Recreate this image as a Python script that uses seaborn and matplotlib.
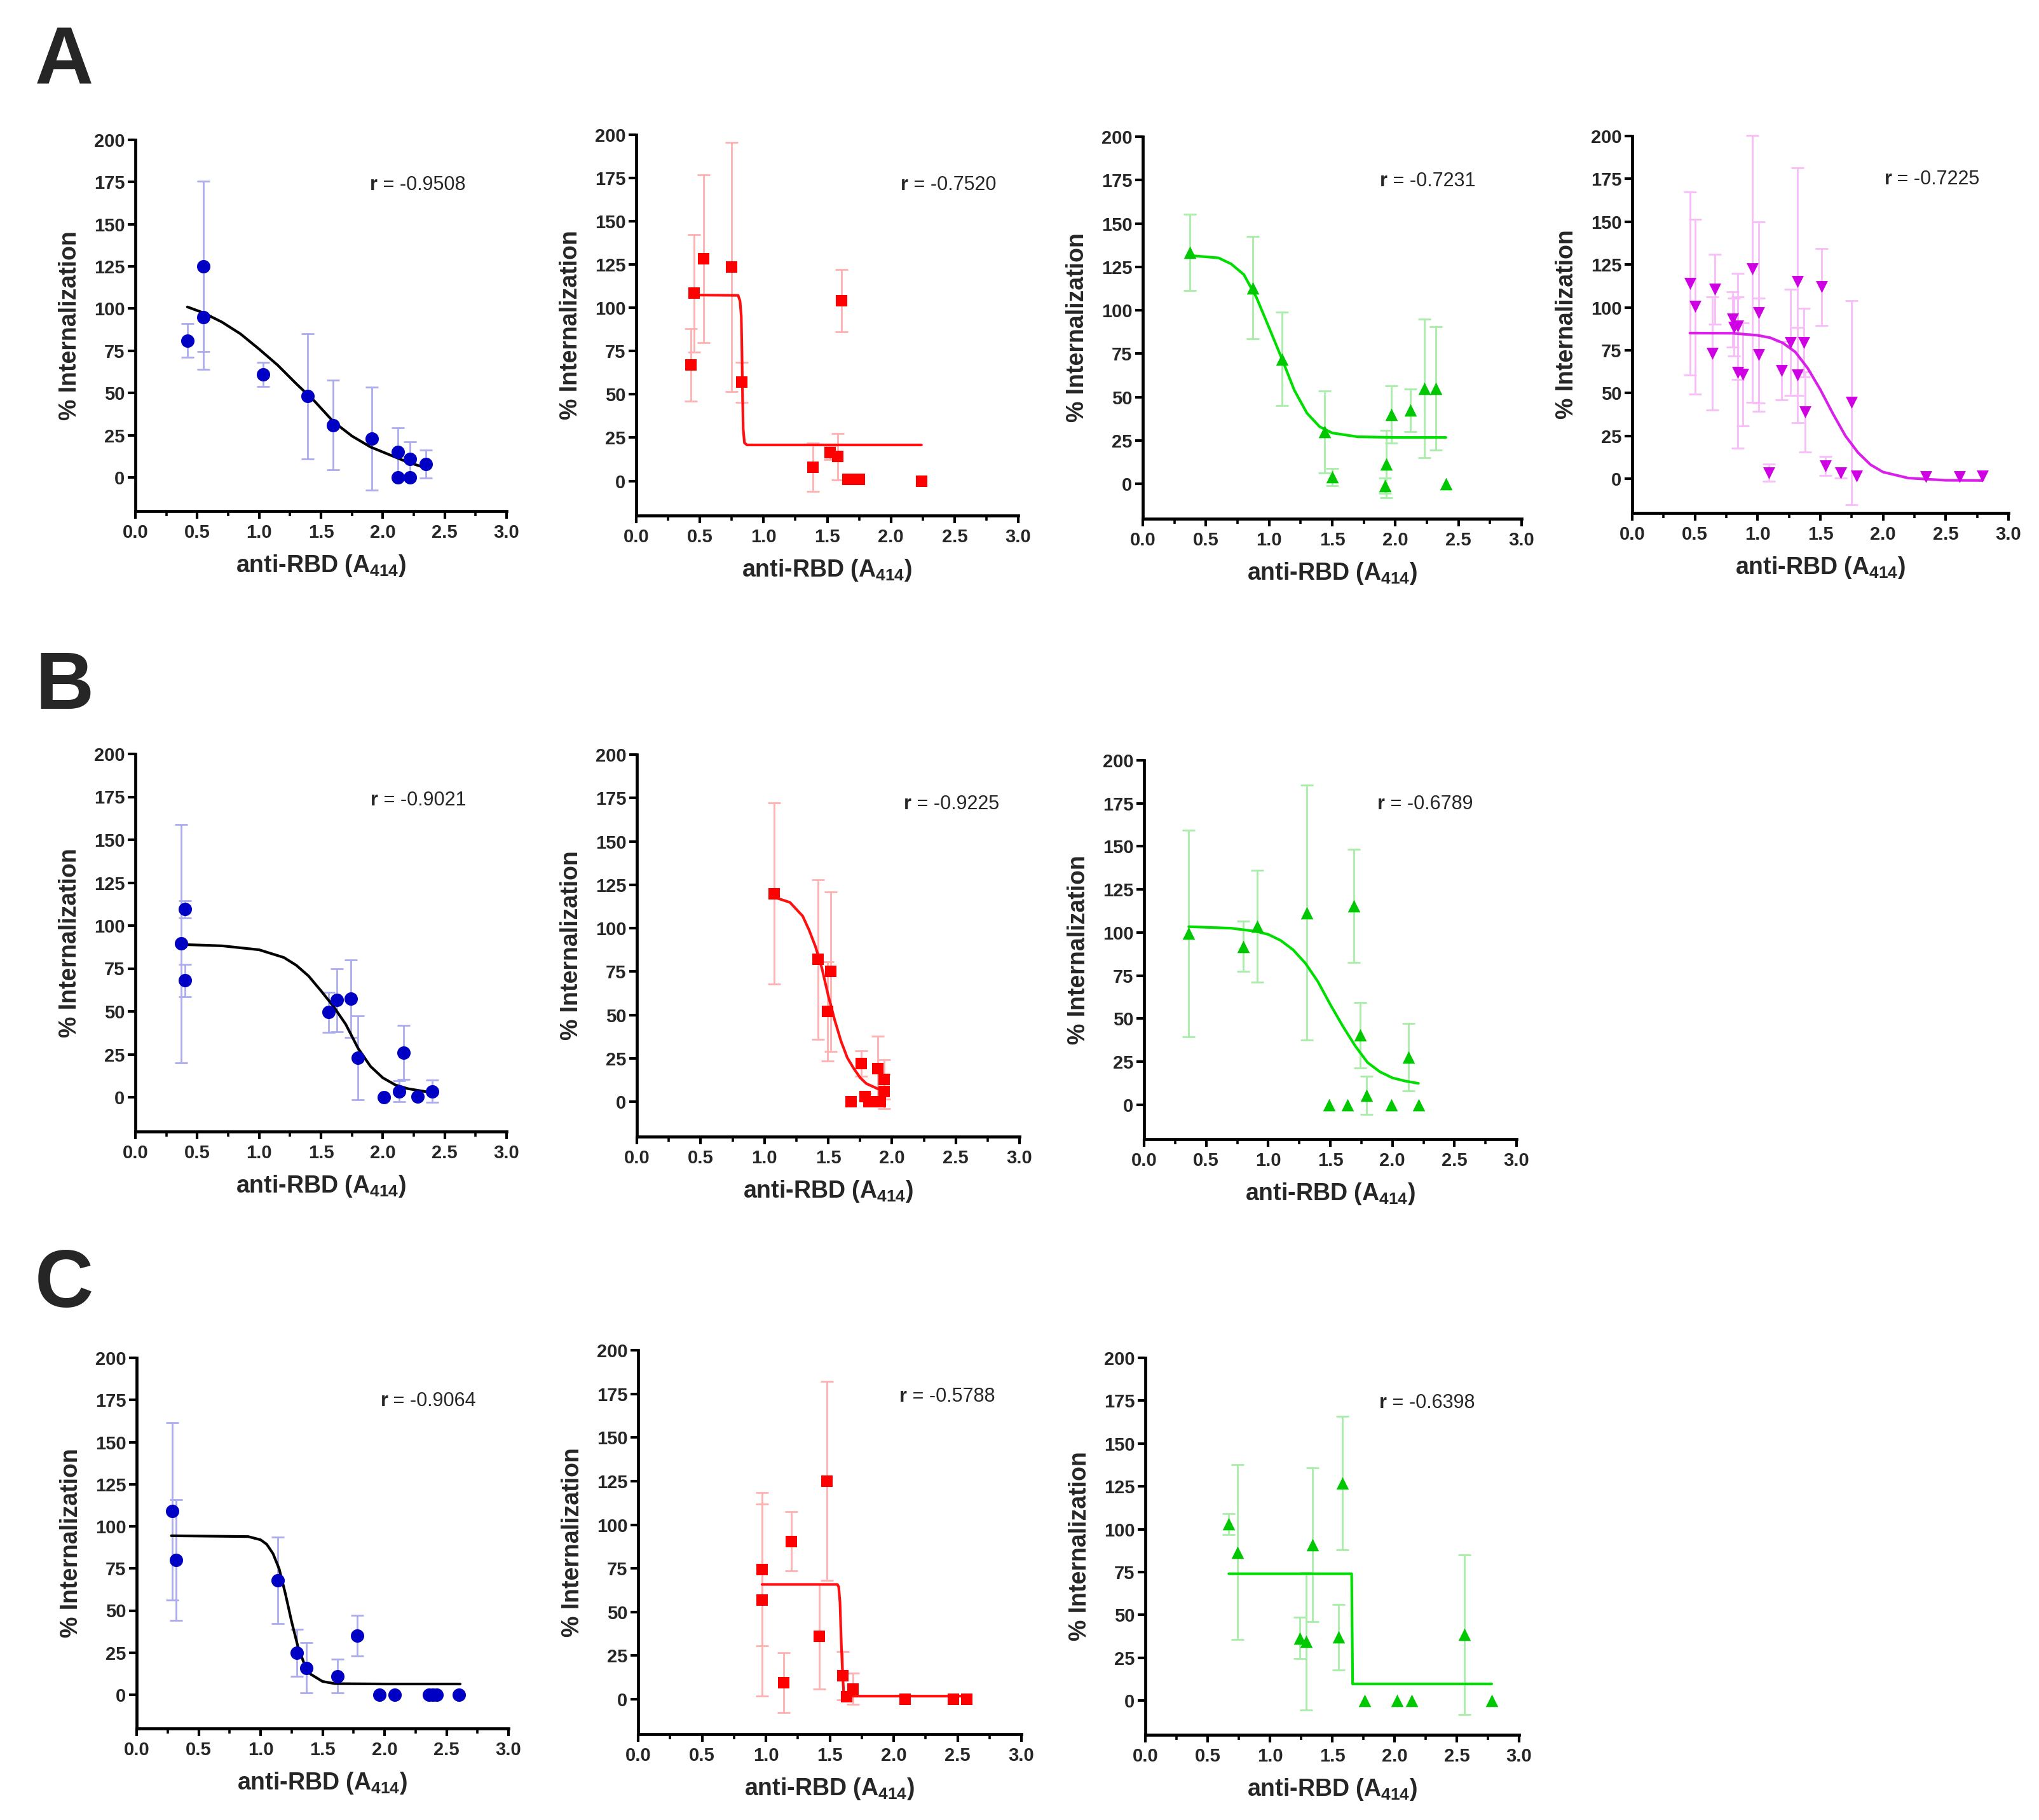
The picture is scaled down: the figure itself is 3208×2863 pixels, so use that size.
import numpy as np
import seaborn as sns
import matplotlib.pyplot as plt
from matplotlib.ticker import MultipleLocator

# ---- data ----
# Row A
a1_x = [0.42, 0.55, 0.55, 1.03, 1.39, 1.60, 1.91, 2.12, 2.12, 2.22, 2.22, 2.35]
a1_y = [81, 125, 95, 61, 48, 31, 23, 15, 0, 11, 0, 8]
a1_err = [10, 50.5, 31, 7, 37, 26.5, 30.5, 14.5, 0, 10, 0, 8.3]
a1_fit_x = [0.42, 0.55, 0.7, 0.85, 1.0, 1.15, 1.3, 1.45, 1.6, 1.75, 1.9, 2.05, 2.2, 2.33]
a1_fit_y = [101, 97.5, 92, 85, 76, 66.5, 55.5, 45, 33, 24.5, 18, 13.5, 9, 6]

a2_x = [0.43, 0.455, 0.53, 0.75, 0.83, 1.39, 1.52, 1.58, 1.61, 1.66, 1.75, 2.24]
a2_y = [67, 108.5, 128.5, 123.5, 57, 8, 16.5, 14, 104, 1, 1, 0]
a2_err = [21, 34, 48.5, 72, 11.5, 14, 4, 13.3, 18, 0, 0, 0]
a2_fit_x = [0.48, 0.80, 0.815, 0.825, 0.83, 0.835, 0.84, 0.85, 0.87, 2.24]
a2_fit_y = [107.4, 107.2, 104, 95, 75, 50, 30, 22, 20.8, 20.8]

a3_x = [0.37, 0.87, 1.10, 1.44, 1.50, 1.93, 1.92, 1.97, 2.12, 2.23, 2.32, 2.40]
a3_y = [133.5, 113, 72, 30, 4, 11.5, -1, 40, 42.5, 55, 55, 0]
a3_err = [22, 29.5, 27, 23.5, 5, 19.5, 4.3, 16.5, 12.3, 40, 35.5, 0]
a3_fit_x = [0.37, 0.6, 0.7, 0.8, 0.9, 1.0, 1.1, 1.2, 1.3, 1.4, 1.5, 1.7, 2.0, 2.40]
a3_fit_y = [131.6, 130.2, 126.7, 120.6, 107.4, 90, 72.4, 54, 40.8, 33, 29.4, 27.2, 26.8, 26.8]

a4_x = [0.46, 0.50, 0.66, 0.64, 0.80, 0.81, 0.84, 0.84, 0.88, 0.96,
        1.01, 1.01, 1.09, 1.19, 1.26, 1.32, 1.32, 1.37, 1.38, 1.51,
        1.54, 1.66, 1.75, 1.79, 2.34, 2.61, 2.79]
a4_y = [114, 100.5, 110.5, 73, 93, 88.5, 89, 62, 61, 122.5,
        97, 72.5, 3.5, 63, 79.5, 115, 60.5, 79.5, 39, 112,
        7.5, 3.5, 44.5, 1.5, 1, 1, 1.5]
a4_err = [53.5, 51, 20.5, 33, 16, 17, 31, 44, 30, 78,
          53, 33, 5, 17, 31, 66.5, 28, 20, 23.5, 22.5,
          5.5, 3, 59.5, 0, 0, 0, 0]
a4_fit_x = [0.46, 0.8, 1.0, 1.1, 1.2, 1.3, 1.4, 1.5, 1.6, 1.7, 1.8, 1.9, 2.0, 2.2, 2.5, 2.79]
a4_fit_y = [85, 84.9, 83.7, 82.3, 79.3, 74, 64.4, 52, 38, 25, 15.3, 8.2, 3.9, 0.4, -0.9, -1]

# Row B
b1_x = [0.40, 0.37, 0.40, 1.56, 1.63, 1.74, 1.80, 2.01, 2.13, 2.17, 2.28, 2.40]
b1_y = [109.5, 89.5, 68, 49.5, 56.5, 57.5, 23, 0, 3.5, 26, 0.5, 3.5]
b1_err = [5, 69.5, 9.5, 11.7, 18.5, 22.5, 24.5, 0, 6, 15.8, 0, 6.6]
b1_fit_x = [0.37, 0.7, 1.0, 1.2, 1.3, 1.4, 1.5, 1.6, 1.7, 1.8, 1.9, 2.0, 2.1, 2.2, 2.35]
b1_fit_y = [89, 88.2, 85.9, 81.4, 76.9, 70.6, 62, 53, 42.5, 28.5, 18, 11.3, 7.2, 5, 3.2]

b2_x = [1.075, 1.42, 1.52, 1.495, 1.68, 1.76, 1.79, 1.82, 1.89, 1.94, 1.94, 1.91]
b2_y = [120, 82, 75, 52, 0, 22, 3, 0, 19, 13, 6, 0]
b2_err = [52, 46, 46, 28.5, 0, 7.3, 2, 0, 18.8, 11.4, 10, 0]
b2_fit_x = [1.075, 1.2, 1.3, 1.35, 1.4, 1.45, 1.5, 1.55, 1.6, 1.65, 1.7, 1.75, 1.8, 1.92]
b2_fit_y = [117.9, 114.9, 107, 99, 89.5, 77.2, 61.4, 47.4, 35.1, 25.4, 19.3, 14, 10.5, 6.5]

b3_x = [0.36, 0.80, 0.91, 1.31, 1.69, 1.49, 1.64, 1.74, 1.79, 1.99, 2.13, 2.21]
b3_y = [99.5, 92, 103.5, 111.5, 115.5, 0, 0, 40.5, 5.5, 0, 27.5, 0]
b3_err = [60, 14.5, 32.5, 74, 33, 0, 0, 19, 11, 0, 19.5, 0]
b3_fit_x = [0.36, 0.7, 0.9, 1.0, 1.1, 1.2, 1.3, 1.4, 1.5, 1.6, 1.7, 1.8, 1.9, 2.0, 2.1, 2.21]
b3_fit_y = [103.4, 102.5, 100.7, 98.9, 95.4, 90, 82.1, 71.5, 58.2, 45.7, 34.2, 24.5, 19.1, 15.6, 13.8, 12.4]

# Row C
c1_x = [0.285, 0.32, 1.14, 1.29, 1.37, 1.62, 1.78, 1.96, 2.08, 2.36, 2.39, 2.42, 2.60]
c1_y = [109, 80, 68, 25, 16, 11, 35, 0, 0, 0, 0, 0, 0]
c1_err = [52.6, 35.7, 25.6, 14, 15, 10, 12, 0, 0, 0, 0, 0, 0]
c1_fit_x = [0.28, 0.9, 1.0, 1.05, 1.1, 1.15, 1.2, 1.25, 1.3, 1.35, 1.4, 1.5, 1.6, 2.0, 2.61]
c1_fit_y = [94.4, 93.9, 92, 89.3, 83.8, 74.7, 60, 43.5, 28.9, 18.8, 12.4, 7.9, 6.6, 6.4, 6.4]

c2_x = [0.97, 0.97, 1.14, 1.20, 1.42, 1.48, 1.60, 1.63, 1.68, 2.09, 2.47, 2.57]
c2_y = [74.5, 57, 9.5, 90.5, 36, 125, 13.5, 1.5, 6, 0, 0, 0]
c2_err = [44, 55, 17, 17, 30, 57, 14, 0, 9, 0, 0, 0]
c2_fit_x = [0.97, 1.56, 1.57, 1.58, 1.59, 1.60, 1.61, 1.63, 2.57]
c2_fit_y = [65.8, 65.8, 64.4, 55.5, 32.4, 14.6, 3, 1.8, 1.8]

c3_x = [0.67, 0.74, 1.24, 1.29, 1.34, 1.55, 1.58, 1.76, 2.02, 2.14, 2.56, 2.78]
c3_y = [103, 86.5, 36.5, 34.5, 91, 37, 127, 0, 0, 0, 38.5, 0]
c3_err = [6, 51, 12, 40, 45, 19, 39, 0, 0, 0, 46.5, 0]
c3_fit_x = [0.67, 1.656, 1.664, 2.78]
c3_fit_y = [74, 74, 9.7, 9.7]

r_values = ["-0.9508", "-0.7520", "-0.7231", "-0.7225",
            "-0.9021", "-0.9225", "-0.6789",
            "-0.9064", "-0.5788", "-0.6398"]

# ---- styles ----
BLUE = dict(marker="o", size=230, color="#0000C4", line="black", bar="#ABABEF")
RED = dict(marker="s", size=170, color="#FF0000", line="#FF1010", bar="#FFB0B0")
GREEN = dict(marker="^", size=200, color="#00C800", line="#00DD00", bar="#A8EEA8")
MAGENTA = dict(marker="v", size=185, color="#D000E4", line="#D820E8", bar="#F8BCF8")

W, H = 3208, 2863

# axes boxes in pixels: left, right, top, bottom ; r text anchor in axes fraction
panels = [
    (a1_x, a1_y, a1_err, a1_fit_x, a1_fit_y, BLUE, (213, 797, 220, 804), (0.652, 0.879)),
    (a2_x, a2_y, a2_err, a2_fit_x, a2_fit_y, RED, (1001, 1602, 212, 811), (0.712, 0.868)),
    (a3_x, a3_y, a3_err, a3_fit_x, a3_fit_y, GREEN, (1798, 2394, 215, 816), (0.646, 0.884)),
    (a4_x, a4_y, a4_err, a4_fit_x, a4_fit_y, MAGENTA, (2568, 3160, 214, 807), (0.690, 0.886)),
    (b1_x, b1_y, b1_err, b1_fit_x, b1_fit_y, BLUE, (213, 797, 1186, 1780), (0.654, 0.877)),
    (b2_x, b2_y, b2_err, b2_fit_x, b2_fit_y, RED, (1002, 1604, 1187, 1788), (0.717, 0.871)),
    (b3_x, b3_y, b3_err, b3_fit_x, b3_fit_y, GREEN, (1800, 2386, 1196, 1792), (0.647, 0.884)),
    (c1_x, c1_y, c1_err, c1_fit_x, c1_fit_y, BLUE, (215, 800, 2136, 2719), (0.676, 0.884)),
    (c2_x, c2_y, c2_err, c2_fit_x, c2_fit_y, RED, (1004, 1607, 2124, 2728), (0.701, 0.879)),
    (c3_x, c3_y, c3_err, c3_fit_x, c3_fit_y, GREEN, (1802, 2390, 2136, 2729), (0.646, 0.880)),
]

sns.set_style("ticks")
plt.rcParams["font.family"] = ["Liberation Sans", "DejaVu Sans"]
plt.rcParams["mathtext.fontset"] = "custom"
plt.rcParams["mathtext.rm"] = "Liberation Sans:bold"
plt.rcParams["mathtext.bf"] = "Liberation Sans:bold"

fig = plt.figure(figsize=(W / 100, H / 100), dpi=100)

for i, (px, py, perr, fx, fy, st, box, rpos) in enumerate(panels):
    left, right, top, bottom = box
    ax = fig.add_axes([left / W, 1 - bottom / H, (right - left) / W, (bottom - top) / H])

    px = np.array(px)
    py = np.array(py)
    perr = np.array(perr)
    has_err = perr > 0

    # error bars (light colour) behind everything
    ax.errorbar(px[has_err], py[has_err], yerr=perr[has_err], fmt="none",
                ecolor=st["bar"], elinewidth=2.0, capsize=7.5, capthick=2.0,
                zorder=1, clip_on=False)

    # fitted curve
    sns.lineplot(x=fx, y=fy, color=st["line"], linewidth=3.0, sort=False,
                 estimator=None, ax=ax, zorder=2)

    # points
    sns.scatterplot(x=px, y=py, marker=st["marker"], s=st["size"], color=st["color"],
                    edgecolor=st["color"], linewidth=0, ax=ax, zorder=3, clip_on=False)

    ax.set_xlim(0, 3.0)
    ax.set_ylim(-20, 200)
    ax.xaxis.set_minor_locator(MultipleLocator(0.25))
    ax.set_yticks(range(0, 201, 25))
    ax.set_xticks(np.arange(0, 3.01, 0.5))
    ax.set_xticklabels([f"{v:.1f}" for v in np.arange(0, 3.01, 0.5)])

    sns.despine(ax=ax)
    for side in ["left", "bottom"]:
        ax.spines[side].set_linewidth(3.4)
        ax.spines[side].set_color("black")
    ax.tick_params(axis="both", which="major", length=8.5, width=3.0, color="black",
                   labelsize=21)
    ax.tick_params(axis="x", which="major", pad=6)
    ax.tick_params(axis="y", which="major", pad=3.5)
    ax.tick_params(axis="x", which="minor", length=5.5, width=2.6, color="black")
    for lab in ax.get_xticklabels() + ax.get_yticklabels():
        lab.set_fontweight("bold")

    ax.set_ylabel("% Internalization", fontsize=27, fontweight="bold", labelpad=14)
    ax.set_xlabel(r"anti-RBD (A$_{\mathbf{414}}$)", fontsize=27, fontweight="bold",
                  labelpad=13)

    ax.text(rpos[0], rpos[1], "r", transform=ax.transAxes, ha="right", va="center",
            fontsize=22, fontweight="bold")
    ax.text(rpos[0], rpos[1], " = " + r_values[i], transform=ax.transAxes, ha="left",
            va="center", fontsize=22)

# panel letters
for letter, base in [("A", 133), ("B", 1115), ("C", 2056)]:
    fig.text(55 / W, 1 - base / H, letter, fontsize=92, fontweight="bold",
             ha="left", va="baseline")

fig.savefig("out.png", dpi=100, facecolor="white")
